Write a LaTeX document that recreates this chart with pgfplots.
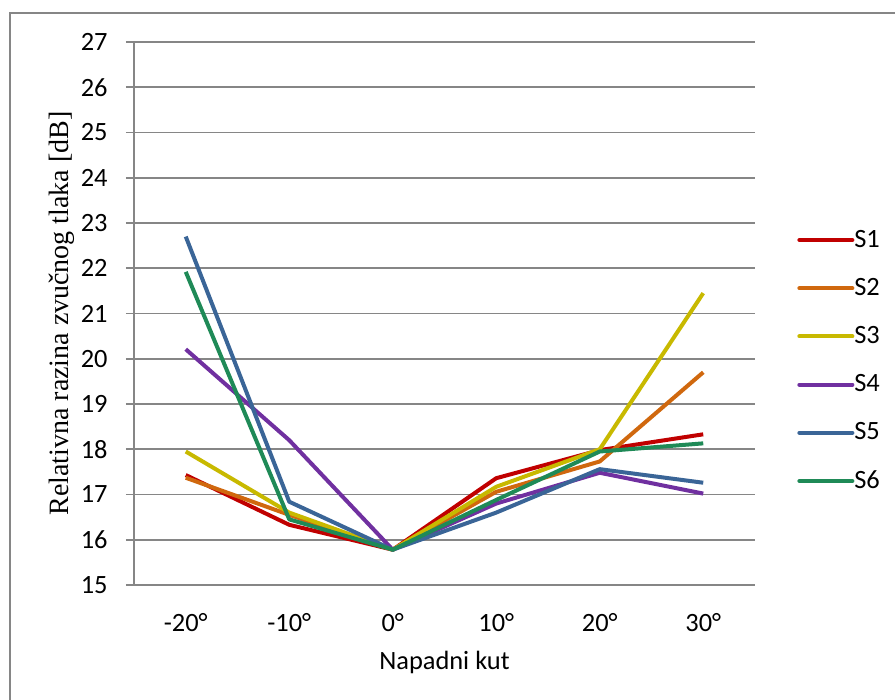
\documentclass[border=0pt]{standalone}
\usepackage{fontspec}
\setmainfont{Carlito}
\newfontfamily\labelserif{Liberation Serif}
\usepackage{pgfplots}
\pgfplotsset{compat=1.18}
\definecolor{gridgray}{HTML}{868686}
\definecolor{cS1}{HTML}{C00000}
\definecolor{cS2}{HTML}{D0680E}
\definecolor{cS3}{HTML}{C8B900}
\definecolor{cS4}{HTML}{7030A0}
\definecolor{cS5}{HTML}{3A6597}
\definecolor{cS6}{HTML}{1F8A57}
\newcommand{\fs}{\fontsize{13.2}{16}\selectfont}
\begin{document}
\begin{tikzpicture}
\useasboundingbox (0,0) rectangle (447.5pt,350pt);
\draw[gridgray, line width=0.8pt] (5pt,-20pt) -- (5pt,343.5pt) -- (470pt,343.5pt);
\begin{axis}[
  at={(67pt,57.5pt)}, anchor=south west,
  scale only axis, width=310.5pt, height=271.5pt,
  xmin=-0.5, xmax=5.5, ymin=15, ymax=27,
  xtick={0,1,2,3,4,5},
  xticklabels={-20°,-10°,0°,10°,20°,30°},
  ytick={15,16,...,27},
  axis x line=bottom, axis y line=left,
  axis line style={-, draw=gridgray, line width=0.9pt},
  ymajorgrids, grid style={gridgray, line width=0.9pt},
  major x tick style={draw=none},
  y tick style={gridgray, line width=0.9pt},
  tick align=outside, major tick length=4pt,
  /pgf/number format/assume math mode=true,
  every tick label/.append style={font=\fs},
  yticklabel style={anchor=east, inner sep=0pt, xshift=-9pt},
  xticklabel style={yshift=-6.5pt},
  xlabel={Napadni kut},
  xlabel style={font=\fs, at={(axis description cs:0.5,0)}, anchor=north, inner sep=0pt, yshift=-32.7pt},
  ylabel={Relativna razina zvučnog tlaka [dB]},
  ylabel style={font=\labelserif\fontsize{14}{16}\selectfont, at={(axis description cs:0,0.5)}, anchor=south, inner sep=0pt, yshift=29.5pt},
  legend cell align=left,
  legend style={at={(1.0676,0.4134)}, anchor=west, draw=none, fill=none, inner sep=0pt, row sep=0pt,
     font=\fs, nodes={inner sep=0pt, minimum height=24.1pt}},
  legend image code/.code={\draw[#1, line width=2pt, line cap=round] (0pt,0pt) -- (26.5pt,0pt);},
  /tikz/every even column/.append style={column sep=2pt},
  every axis plot/.append style={line width=2pt, line join=round, mark=none},
]
\addplot[cS1] coordinates {(0,17.43) (1,16.33) (2,15.78) (3,17.36) (4,17.98) (5,18.33)};
\addlegendentry{S1}
\addplot[cS2] coordinates {(0,17.37) (1,16.55) (2,15.78) (3,17.06) (4,17.73) (5,19.70)};
\addlegendentry{S2}
\addplot[cS3] coordinates {(0,17.95) (1,16.60) (2,15.78) (3,17.17) (4,18.00) (5,21.45)};
\addlegendentry{S3}
\addplot[cS4] coordinates {(0,20.21) (1,18.20) (2,15.78) (3,16.80) (4,17.48) (5,17.02)};
\addlegendentry{S4}
\addplot[cS5] coordinates {(0,22.70) (1,16.84) (2,15.78) (3,16.60) (4,17.56) (5,17.26)};
\addlegendentry{S5}
\addplot[cS6] coordinates {(0,21.92) (1,16.45) (2,15.78) (3,16.88) (4,17.95) (5,18.13)};
\addlegendentry{S6}
\end{axis}
\end{tikzpicture}
\end{document}
